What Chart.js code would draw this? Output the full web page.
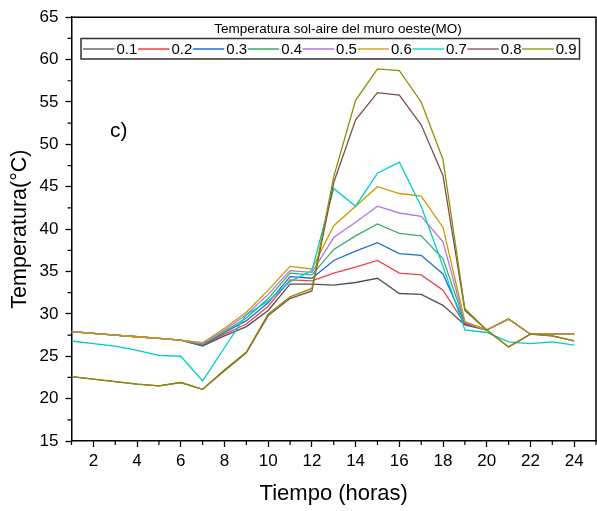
<!DOCTYPE html>
<html>
<head>
<meta charset="utf-8">
<script src="https://cdn.jsdelivr.net/npm/chart.js@4.4.0/dist/chart.umd.min.js"></script>
<style>
  html, body { margin: 0; padding: 0; background: #fff; }
</style>
</head>
<body>
<canvas id="chart" width="597" height="511"></canvas>
<script>
// hours of the day
const hours = [1, 2, 3, 4, 5, 6, 7, 8, 9, 10, 11, 12, 13, 14, 15, 16, 17, 18, 19, 20, 21, 22, 23, 24];
const seriesLabels = ["0.1", "0.2", "0.3", "0.4", "0.5", "0.6", "0.7", "0.8", "0.9"];

// temperatura sol-aire (°C) for each absorptance
const t01 = [27.9, 27.7, 27.5, 27.3, 27.1, 26.9, 26.2, 27.4, 28.5, 30.4, 33.5, 33.5, 33.4, 33.7, 34.2, 32.4, 32.3, 31.0, 28.7, 28.1, 29.4, 27.6, 27.6, 27.6];
const t02 = [27.9, 27.7, 27.5, 27.3, 27.1, 26.9, 26.3, 27.6, 28.8, 30.9, 34.0, 33.9, 34.8, 35.5, 36.3, 34.8, 34.6, 32.8, 28.8, 28.1, 29.4, 27.6, 27.6, 27.6];
const t03 = [27.9, 27.7, 27.5, 27.3, 27.1, 26.9, 26.3, 27.8, 29.2, 31.3, 34.4, 34.2, 36.3, 37.4, 38.4, 37.1, 36.9, 34.7, 28.9, 28.1, 29.4, 27.6, 27.6, 27.6];
const t04 = [27.9, 27.7, 27.5, 27.3, 27.1, 26.9, 26.4, 27.9, 29.5, 31.8, 34.8, 34.6, 37.6, 39.2, 40.6, 39.5, 39.2, 36.5, 29.0, 28.1, 29.4, 27.6, 27.6, 27.6];
const t05 = [27.9, 27.7, 27.5, 27.3, 27.1, 26.9, 26.5, 28.1, 29.9, 32.3, 35.1, 34.9, 39.0, 40.8, 42.7, 41.9, 41.5, 38.5, 29.0, 28.1, 29.4, 27.6, 27.6, 27.6];
const t06 = [27.9, 27.7, 27.5, 27.3, 27.1, 26.9, 26.6, 28.3, 30.2, 32.8, 35.6, 35.3, 40.4, 42.7, 45.0, 44.2, 43.9, 40.2, 29.1, 28.1, 29.4, 27.6, 27.6, 27.6];
const t07 = [26.8, 26.5, 26.2, 25.7, 25.1, 25.0, 22.1, 26.0, 29.9, 31.5, 33.8, 35.1, 44.8, 42.7, 46.6, 47.9, 42.7, 35.6, 28.1, 27.8, 26.7, 26.5, 26.7, 26.3];
const t08 = [22.6, 22.3, 22.0, 21.7, 21.5, 21.9, 21.1, 23.3, 25.4, 29.8, 31.8, 32.7, 45.5, 52.9, 56.1, 55.8, 52.3, 46.3, 30.4, 28.1, 26.1, 27.6, 27.4, 26.8];
const t09 = [22.6, 22.3, 22.0, 21.7, 21.5, 21.9, 21.1, 23.4, 25.5, 30.0, 32.0, 33.0, 46.2, 55.2, 58.9, 58.7, 55.0, 48.2, 30.6, 28.1, 26.1, 27.6, 27.4, 26.8];
const seriesValues = [t01, t02, t03, t04, t05, t06, t07, t08, t09];
const seriesColors = ["#515151", "#F14040", "#1A6FDF", "#37AD6B", "#B177DE", "#CC9900", "#00CBCC", "#7D4E4E", "#8E8E00"];

const xTicks = [2, 4, 6, 8, 10, 12, 14, 16, 18, 20, 22, 24];
const xMinor = [1, 3, 5, 7, 9, 11, 13, 15, 17, 19, 21, 23, 25];
const yTicks = [15, 20, 25, 30, 35, 40, 45, 50, 55, 60, 65];
const yMinor = [17.5, 22.5, 27.5, 32.5, 37.5, 42.5, 47.5, 52.5, 57.5, 62.5];

const legendTitle = "Temperatura sol-aire del muro oeste(MO)";
const FONT = "Arial, 'Liberation Sans', sans-serif";

// frame, minor ticks, legend box and panel label, drawn like Origin does
const extras = {
  id: "extras",
  afterDraw(chart) {
    const ctx = chart.ctx;
    const { left, right, top, bottom } = chart.chartArea;
    const xs = chart.scales.x;
    const ys = chart.scales.y;
    ctx.save();
    ctx.strokeStyle = "#000";
    ctx.lineWidth = 1.5;
    ctx.beginPath();
    ctx.moveTo(left, top);
    ctx.lineTo(right, top);
    ctx.lineTo(right, bottom);
    ctx.stroke();

    ctx.lineWidth = 1.2;
    ctx.beginPath();
    xMinor.forEach((v) => {
      const px = xs.getPixelForValue(v);
      ctx.moveTo(px, bottom);
      ctx.lineTo(px, bottom + 4);
    });
    yMinor.forEach((v) => {
      const py = ys.getPixelForValue(v);
      ctx.moveTo(left, py);
      ctx.lineTo(left - 4, py);
    });
    ctx.stroke();

    // legend
    ctx.fillStyle = "#000";
    ctx.font = "13.5px " + FONT;
    ctx.textAlign = "center";
    ctx.textBaseline = "middle";
    ctx.fillText(legendTitle, 338, 29);

    ctx.strokeStyle = "#333";
    ctx.lineWidth = 1.5;
    ctx.strokeRect(81, 38.5, 498.5, 20.5);

    ctx.font = "15px " + FONT;
    ctx.textAlign = "left";
    chart.data.datasets.forEach((ds, i) => {
      const x0 = 83 + i * 54.9;
      ctx.strokeStyle = ds.borderColor;
      ctx.lineWidth = 1.3;
      ctx.beginPath();
      ctx.moveTo(x0, 49);
      ctx.lineTo(x0 + 31.5, 49);
      ctx.stroke();
      ctx.fillText(ds.label, x0 + 33.5, 49.5);
    });

    ctx.font = "21px " + FONT;
    ctx.fillText("c)", 110, 131);
    ctx.restore();
  },
};

new Chart(document.getElementById("chart"), {
  type: "line",
  data: {
    datasets: seriesValues.map((vals, i) => ({
      label: seriesLabels[i],
      data: hours.map((h, k) => ({ x: h, y: vals[k] })),
      borderColor: seriesColors[i],
      backgroundColor: seriesColors[i],
      borderWidth: 1.3,
      pointRadius: 0,
      tension: 0,
      order: seriesValues.length - 1 - i,
    })),
  },
  options: {
    responsive: false,
    animation: false,
    devicePixelRatio: 1,
    layout: { padding: { top: 16.5, right: 1, left: 0, bottom: 0 } },
    plugins: {
      legend: { display: false },
      tooltip: { enabled: false },
    },
    scales: {
      x: {
        type: "linear",
        min: 1,
        max: 25,
        afterFit: (scale) => { scale.height = 70; },
        afterBuildTicks: (scale) => { scale.ticks = xTicks.map((v) => ({ value: v })); },
        grid: { drawOnChartArea: false, drawTicks: true, tickLength: 6, tickColor: "#000", tickWidth: 1.3 },
        border: { display: true, color: "#000", width: 1.5 },
        ticks: { color: "#000", font: { family: FONT, size: 17 }, padding: 4, maxRotation: 0, autoSkip: false },
        title: { display: true, text: "Tiempo (horas)", color: "#000", font: { family: FONT, size: 22 }, padding: { top: 0, bottom: 4 } },
      },
      y: {
        min: 15,
        max: 65,
        afterFit: (scale) => { scale.width = 71.5; },
        afterBuildTicks: (scale) => { scale.ticks = yTicks.map((v) => ({ value: v })); },
        grid: { drawOnChartArea: false, drawTicks: true, tickLength: 6, tickColor: "#000", tickWidth: 1.3 },
        border: { display: true, color: "#000", width: 1.5 },
        ticks: { color: "#000", font: { family: FONT, size: 17 }, padding: 7, autoSkip: false },
        title: { display: true, text: "Temperatura(°C)", color: "#000", font: { family: FONT, size: 21.5 }, padding: { top: 7, bottom: 0 } },
      },
    },
  },
  plugins: [extras],
});
</script>
</body>
</html>
